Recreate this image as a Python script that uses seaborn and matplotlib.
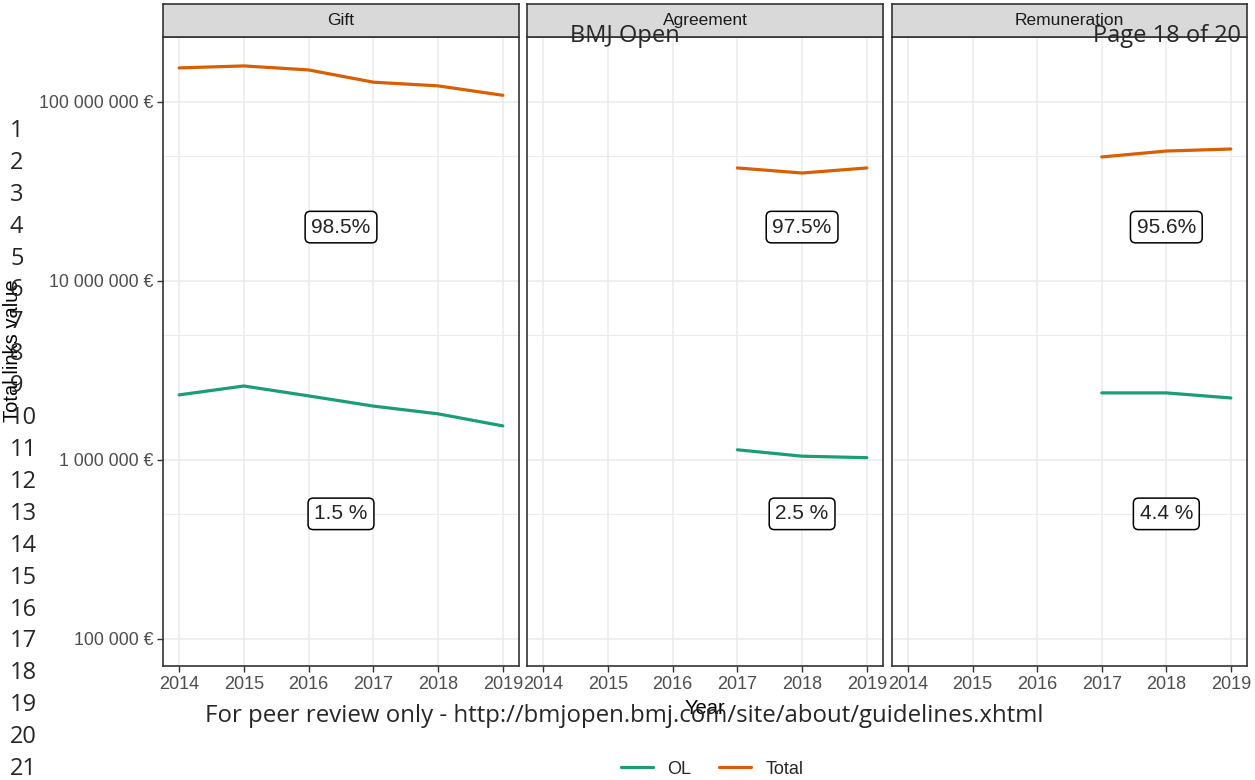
import numpy as np
import pandas as pd
import matplotlib
matplotlib.use('Agg')
import matplotlib.pyplot as plt
from matplotlib.ticker import FixedLocator, FuncFormatter, NullFormatter
from matplotlib.lines import Line2D
import seaborn as sns

# Data (euros, log scale)
categories = ['Gift', 'Agreement', 'Remuneration']
gift_years = [2014, 2015, 2016, 2017, 2018, 2019]
gift_total = [155e6, 159e6, 151e6, 129e6, 123e6, 109e6]
gift_ol = [2.31e6, 2.59e6, 2.28e6, 2.0e6, 1.81e6, 1.55e6]
agreement_years = [2017, 2018, 2019]
agreement_total = [42.8e6, 40.1e6, 42.8e6]
agreement_ol = [1.14e6, 1.05e6, 1.03e6]
remuneration_years = [2017, 2018, 2019]
remuneration_total = [49.3e6, 53.2e6, 54.6e6]
remuneration_ol = [2.37e6, 2.37e6, 2.22e6]

# percentage labels
label_x = [2016.5, 2018, 2018]
label_total = ['98.5%', '97.5%', '95.6%']
label_ol = ['1.5 %', '2.5 %', '4.4 %']
label_y_total = 2e7
label_y_ol = 5e5

series_names = ['OL', 'Total']
palette = {'OL': '#1B9E77', 'Total': '#D95F02'}

rows = []
for cat, yrs, tot, ol in [('Gift', gift_years, gift_total, gift_ol),
                          ('Agreement', agreement_years, agreement_total, agreement_ol),
                          ('Remuneration', remuneration_years, remuneration_total, remuneration_ol)]:
    for y, t, o in zip(yrs, tot, ol):
        rows.append({'Category': cat, 'Year': y, 'Series': 'Total', 'Value': t})
        rows.append({'Category': cat, 'Year': y, 'Series': 'OL', 'Value': o})
df = pd.DataFrame(rows)

sns.set_theme(style='white')
plt.rcParams['font.family'] = ['Liberation Sans', 'DejaVu Sans']

W, H = 1255, 780
fig = plt.figure(figsize=(W / 100, H / 100), dpi=100)

panel_x = [(163, 519), (527, 883), (892, 1247)]
top, bottom, strip_top = 37, 666, 4

def euro(v, pos):
    return '{:,.0f} €'.format(v).replace(',', ' ')

for i, cat in enumerate(categories):
    x0, x1 = panel_x[i]
    ax = fig.add_axes([x0 / W, 1 - bottom / H, (x1 - x0) / W, (bottom - top) / H])
    ax.set_yscale('log')
    ax.set_xlim(2013.75, 2019.25)
    ax.set_ylim(10 ** 4.849, 10 ** 8.363)
    ax.yaxis.set_major_locator(FixedLocator([1e5, 1e6, 1e7, 1e8]))
    ax.yaxis.set_minor_locator(FixedLocator([5e4, 5e5, 5e6, 5e7]))
    ax.yaxis.set_minor_formatter(NullFormatter())
    ax.set_xticks(gift_years)
    ax.grid(True, which='major', color='#EBEBEB', linewidth=1.1)
    ax.grid(True, which='minor', axis='y', color='#EBEBEB', linewidth=0.8)
    ax.set_axisbelow(True)

    sub = df[df['Category'] == cat]
    sns.lineplot(data=sub, x='Year', y='Value', hue='Series', hue_order=series_names,
                 palette=palette, linewidth=2.3, ax=ax, legend=False)

    for t, yv in [(label_total[i], label_y_total), (label_ol[i], label_y_ol)]:
        ax.text(label_x[i], yv, t, ha='center', va='center', fontsize=15, color='#222222',
                bbox=dict(boxstyle='round,pad=0.3,rounding_size=0.25', fc='white', ec='black', lw=1.1))

    for s in ax.spines.values():
        s.set_color('#333333')
        s.set_linewidth(1.2)
    ax.tick_params(axis='x', which='major', length=4, width=1, color='#333333', labelsize=13,
                   labelcolor='#4D4D4D', pad=3, bottom=True)
    ax.tick_params(axis='y', which='minor', length=0)
    if i == 0:
        ax.yaxis.set_major_formatter(FuncFormatter(euro))
        ax.tick_params(axis='y', which='major', length=4, width=1, color='#333333', labelsize=12.8,
                       labelcolor='#4D4D4D', pad=3, left=True)
    else:
        ax.tick_params(axis='y', which='major', length=0, labelleft=False)
    ax.set_xlabel('')
    ax.set_ylabel('')

    # facet strip
    sax = fig.add_axes([x0 / W, 1 - top / H, (x1 - x0) / W, (top - strip_top) / H])
    sax.set_facecolor('#D9D9D9')
    sax.set_xticks([])
    sax.set_yticks([])
    for s in sax.spines.values():
        s.set_color('#333333')
        s.set_linewidth(1.2)
    sax.text(0.5, 0.5, cat, ha='center', va='center', fontsize=12.5, color='#1A1A1A',
             transform=sax.transAxes)

fig.text(705 / W, 1 - 708 / H, 'Year', ha='center', va='center', fontsize=14.5, color='black')
fig.text(13 / W, 1 - 351 / H, 'Total links value', ha='center', va='center', rotation=90,
         fontsize=14.5, color='black')

handles = [Line2D([], [], color=palette[n], linewidth=2.3) for n in series_names]
fig.legend(handles, series_names, loc='center', bbox_to_anchor=(712 / W, 1 - 769 / H), ncol=2,
           frameon=False, fontsize=13, handlelength=1.8, columnspacing=1.5)

# page overlay from the PDF
page_font = ['Open Sans', 'DejaVu Sans']
fig.text(570 / W, 1 - 36 / H, 'BMJ Open', ha='left', va='center', fontsize=17, family=page_font)
fig.text(1241 / W, 1 - 36 / H, 'Page 18 of 20', ha='right', va='center', fontsize=17, family=page_font)
fig.text(205 / W, 1 - 716 / H, 'For peer review only - http://bmjopen.bmj.com/site/about/guidelines.xhtml',
         ha='left', va='center', fontsize=17.3, family=page_font)
for n, yy in zip(range(1, 22), np.linspace(131, 769, 21)):
    fig.text(10 / W, 1 - yy / H, str(n), ha='left', va='center', fontsize=17, family=page_font)

fig.savefig('out.png', dpi=100)
